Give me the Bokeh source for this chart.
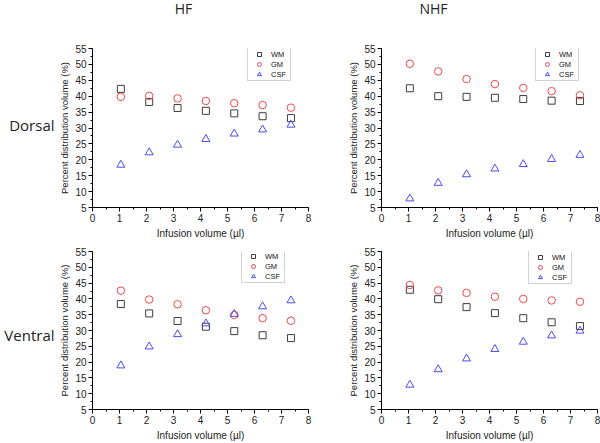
from bokeh.plotting import figure
from bokeh.layouts import row, column
from bokeh.models import Range1d, SingleIntervalTicker, Label, Legend, LegendItem
from bokeh.embed import file_html
from bokeh.resources import INLINE

# ---- data ----
infusion = [1.05, 2.1, 3.15, 4.2, 5.25, 6.3, 7.35]

hf_dorsal_wm = [42.3, 38.2, 36.3, 35.4, 34.6, 33.7, 33.1]
hf_dorsal_gm = [39.8, 40.1, 39.3, 38.5, 37.8, 37.2, 36.4]
hf_dorsal_csf = [18.4, 22.3, 24.7, 26.5, 28.2, 29.5, 31.0]

nhf_dorsal_wm = [42.5, 40.0, 39.8, 39.5, 39.1, 38.6, 38.5]
nhf_dorsal_gm = [50.2, 47.8, 45.4, 43.8, 42.6, 41.6, 40.3]
nhf_dorsal_csf = [7.8, 12.7, 15.4, 17.2, 18.6, 20.2, 21.5]

hf_ventral_wm = [38.4, 35.4, 33.0, 31.2, 29.8, 28.5, 27.6]
hf_ventral_gm = [42.6, 39.8, 38.3, 36.4, 34.9, 33.9, 33.1]
hf_ventral_csf = [18.9, 24.9, 28.8, 32.2, 35.2, 37.6, 39.5]

nhf_ventral_wm = [42.9, 39.9, 37.4, 35.5, 33.9, 32.6, 31.4]
nhf_ventral_gm = [44.4, 42.7, 41.9, 40.7, 40.0, 39.5, 39.1]
nhf_ventral_csf = [12.8, 17.7, 21.1, 24.1, 26.4, 28.4, 29.9]

col_titles = ["HF", "NHF"]
row_titles = ["Dorsal", "Ventral"]
series_names = ["WM", "GM", "CSF"]
x_label = "Infusion volume (\u00b5l)"
y_label = "Percent distribution volume (%)"

C_WM = "#3c3c3c"
C_GM = "#ec4a4a"
C_CSF = "#4c4cec"

FRAME_W = 216
AXFONT = "Liberation Sans"
TFONT = "Open Sans"
TXT = "#222222"
LEG_H = 32


def text_strip(w, h):
    f = figure(width=w, height=h, x_range=Range1d(0, w), y_range=Range1d(0, h),
               x_axis_type=None, y_axis_type=None, output_backend="svg",
               toolbar_location=None, min_border=0)
    f.outline_line_color = None
    f.xgrid.visible = False
    f.ygrid.visible = False
    f.border_fill_color = "white"
    f.background_fill_color = "white"
    return f


def make_panel(wm, gm, csf, left, right, top, bottom, frame_h, leg_x, leg_top):
    p = figure(width=left + FRAME_W + right, height=top + frame_h + bottom,
               x_range=Range1d(0, 8), y_range=Range1d(5, 55),
               output_backend="svg", toolbar_location=None,
               min_border_left=left, min_border_right=right,
               min_border_top=top, min_border_bottom=bottom)
    p.outline_line_color = None
    p.xgrid.visible = False
    p.ygrid.visible = False
    p.background_fill_color = "white"
    p.border_fill_color = "white"

    p.xaxis.ticker = SingleIntervalTicker(interval=1, num_minor_ticks=2)
    p.yaxis.ticker = SingleIntervalTicker(interval=5, num_minor_ticks=2)
    for ax in (p.xaxis[0], p.yaxis[0]):
        ax.axis_line_color = "black"
        ax.axis_line_width = 1
        ax.major_tick_in = 0
        ax.major_tick_out = 4
        ax.minor_tick_in = 0
        ax.minor_tick_out = 2
        ax.major_tick_line_color = "black"
        ax.minor_tick_line_color = "black"
        ax.major_label_text_font = AXFONT
        ax.major_label_text_font_size = "10px"
        ax.major_label_text_color = TXT
        ax.major_label_standoff = 2
        ax.axis_label_text_font = AXFONT
        ax.axis_label_text_font_style = "normal"
        ax.axis_label_text_color = TXT
    p.xaxis.axis_label = x_label
    p.xaxis.axis_label_text_font_size = "10px"
    p.xaxis.axis_label_standoff = 3
    p.yaxis.axis_label = y_label
    p.yaxis.axis_label_text_font_size = "9.5px"
    p.yaxis.axis_label_standoff = 2

    r1 = p.scatter(infusion, wm, marker="square", size=7, fill_color=None,
                   line_color=C_WM, line_width=1)
    r2 = p.scatter(infusion, gm, marker="circle", size=7.5, fill_color=None,
                   line_color=C_GM, line_width=1)
    r3 = p.scatter(infusion, csf, marker="triangle", size=8, fill_color=None,
                   line_color=C_CSF, line_width=1)

    legend = Legend(items=[LegendItem(label=series_names[0], renderers=[r1]),
                           LegendItem(label=series_names[1], renderers=[r2]),
                           LegendItem(label=series_names[2], renderers=[r3])],
                    location=(leg_x, frame_h - LEG_H - leg_top),
                    label_text_font=AXFONT, label_text_font_size="7.5px",
                    label_text_color="#111111",
                    glyph_width=20, glyph_height=10, label_height=10,
                    label_width=18,
                    label_standoff=2, spacing=0, padding=1, margin=0,
                    border_line_color="#a8a8a8", border_line_width=1,
                    background_fill_color="white", background_fill_alpha=1)
    p.add_layout(legend, "center")
    return p


# layout sizes
LEFT_W = 56
TOP_H = 20

p_tl = make_panel(hf_dorsal_wm, hf_dorsal_gm, hf_dorsal_csf, 36, 10, 28, 36, 159, 155, 1)
p_tr = make_panel(nhf_dorsal_wm, nhf_dorsal_gm, nhf_dorsal_csf, 63, 3, 28, 36, 159, 154, 1)
p_bl = make_panel(hf_ventral_wm, hf_ventral_gm, hf_ventral_csf, 36, 10, 8, 32, 160, 149, 2)
p_br = make_panel(nhf_ventral_wm, nhf_ventral_gm, nhf_ventral_csf, 63, 3, 8, 32, 160, 147, 3)

top_strip = text_strip(600 - LEFT_W, TOP_H)
top_strip.add_layout(Label(x=183 - LEFT_W, y=12, x_units="screen", y_units="screen",
                           text=col_titles[0], text_font=TFONT, text_font_size="14px",
                           text_align="center", text_baseline="middle", text_color=TXT))
top_strip.add_layout(Label(x=433 - LEFT_W, y=12, x_units="screen", y_units="screen",
                           text=col_titles[1], text_font=TFONT, text_font_size="14px",
                           text_align="center", text_baseline="middle", text_color=TXT))

left_strip = text_strip(LEFT_W, 443)
left_strip.add_layout(Label(x=54, y=443 - 124, x_units="screen", y_units="screen",
                            text=row_titles[0], text_font=TFONT, text_font_size="15px",
                            text_align="right", text_baseline="middle", text_color=TXT))
left_strip.add_layout(Label(x=54, y=443 - 334, x_units="screen", y_units="screen",
                            text=row_titles[1], text_font=TFONT, text_font_size="15px",
                            text_align="right", text_baseline="middle", text_color=TXT))

layout = row(left_strip, column(top_strip, row(p_tl, p_tr), row(p_bl, p_br)))

open("out.html", "w").write(file_html(layout, INLINE))
